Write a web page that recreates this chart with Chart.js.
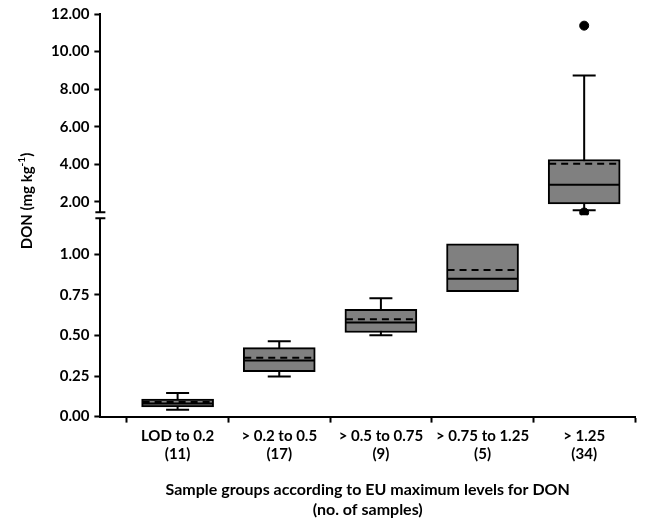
<!DOCTYPE html>
<html>
<head>
<meta charset="utf-8">
<script src="https://cdn.jsdelivr.net/npm/chart.js@4.4.1/dist/chart.umd.min.js"></script>
<style>
  html, body { margin: 0; padding: 0; background: #fff; }
  #wrap { width: 649px; height: 525px; }
</style>
</head>
<body>
<div id="wrap"><canvas id="chart"></canvas></div>
<script>
// Grupos de amostras (eixo x)
const groups = ['LOD to 0.2', '> 0.2 to 0.5', '> 0.5 to 0.75', '> 0.75 to 1.25', '> 1.25'];
const sampleCounts = ['(11)', '(17)', '(9)', '(5)', '(34)'];

// Estatisticas de cada caixa (mg/kg)
const q1 = [0.06, 0.276, 0.518, 0.77, 1.88];
const q3 = [0.108, 0.425, 0.661, 1.065, 4.25];
const medians = [0.08, 0.346, 0.58, 0.849, 2.91];
const means = [0.09, 0.362, 0.599, 0.903, 4.02];
const whiskerLow = [0.042, 0.247, 0.501, null, 1.55];
const whiskerHigh = [0.145, 0.464, 0.729, null, 8.73];
const outliers = [[], [], [], [], [11.38, 1.43]];

// Eixo y quebrado: parte de baixo e parte de cima
const lowTicks = [0, 0.25, 0.5, 0.75, 1.0];
const highTicks = [2, 4, 6, 8, 10, 12];
const lowMax = 1.24;
const highMin = 1.28;
const highMax = 12;

const font = { family: 'Lato', size: 15, weight: 'bold' };
const titleFont = { family: 'Lato', size: 16, weight: 'bold' };
const boxGray = '#808080';
const capWidth = 23;
const boxWidth = 72;

function axisFor(i) {
    return q1[i] < lowMax ? 'yLow' : 'yUp';
}

// Monta os dados das caixas (barras flutuantes)
const lowBoxes = [];
const highBoxes = [];
groups.forEach((g, i) => {
    const item = { x: i + 1, y: [q1[i], q3[i]] };
    if (axisFor(i) === 'yLow') lowBoxes.push(item); else highBoxes.push(item);
});
const outlierPoints = [];
outliers.forEach((list, i) => list.forEach(v => outlierPoints.push({ x: i + 1, y: v })));

// Bigodes, mediana e media desenhados com as escalas do grafico
const boxLines = {
    id: 'boxLines',
    beforeDatasetsDraw(chart) {
        const ctx = chart.ctx;
        const xs = chart.scales.x;
        ctx.save();
        ctx.strokeStyle = '#000';
        ctx.lineWidth = 2;
        groups.forEach((g, i) => {
            if (whiskerLow[i] == null) return;
            const ys = chart.scales[axisFor(i)];
            const cx = xs.getPixelForValue(i + 1);
            const yLo = ys.getPixelForValue(whiskerLow[i]);
            const yHi = ys.getPixelForValue(whiskerHigh[i]);
            ctx.beginPath();
            ctx.moveTo(cx, yLo); ctx.lineTo(cx, yHi);
            ctx.moveTo(cx - capWidth / 2, yLo); ctx.lineTo(cx + capWidth / 2, yLo);
            ctx.moveTo(cx - capWidth / 2, yHi); ctx.lineTo(cx + capWidth / 2, yHi);
            ctx.stroke();
        });
        ctx.restore();
    },
    afterDatasetsDraw(chart) {
        const ctx = chart.ctx;
        const xs = chart.scales.x;
        ctx.save();
        ctx.strokeStyle = '#000';
        ctx.lineWidth = 2;
        groups.forEach((g, i) => {
            const ys = chart.scales[axisFor(i)];
            const cx = xs.getPixelForValue(i + 1);
            const left = cx - boxWidth / 2 + 1;
            const right = cx + boxWidth / 2 - 1;
            // mediana
            ctx.setLineDash([]);
            ctx.beginPath();
            ctx.moveTo(left, ys.getPixelForValue(medians[i]));
            ctx.lineTo(right, ys.getPixelForValue(medians[i]));
            ctx.stroke();
            // media (tracejada)
            ctx.setLineDash([7, 5]);
            ctx.beginPath();
            ctx.moveTo(left, ys.getPixelForValue(means[i]));
            ctx.lineTo(right, ys.getPixelForValue(means[i]));
            ctx.stroke();
        });
        ctx.restore();
    },
    afterDraw(chart) {
        const ctx = chart.ctx;
        const up = chart.scales.yUp;
        const axisX = chart.chartArea.left;
        const yb = up.bottom;
        ctx.save();
        // quebra do eixo y
        ctx.fillStyle = '#fff';
        ctx.fillRect(axisX - 3, yb - 3, 6, 6);
        ctx.strokeStyle = '#000';
        ctx.lineWidth = 2;
        ctx.beginPath();
        ctx.moveTo(axisX - 5, yb - 3); ctx.lineTo(axisX + 5, yb - 3);
        ctx.moveTo(axisX - 5, yb + 3); ctx.lineTo(axisX + 5, yb + 3);
        ctx.stroke();

        // titulo do eixo y com expoente
        ctx.fillStyle = '#000';
        ctx.translate(27, 201);
        ctx.rotate(-Math.PI / 2);
        ctx.textBaseline = 'middle';
        ctx.textAlign = 'left';
        const main = 'bold 15px Lato';
        const sup = 'bold 10px Lato';
        ctx.font = main;
        const w1 = ctx.measureText('DON (mg kg').width;
        const w3 = ctx.measureText(')').width;
        ctx.font = sup;
        const w2 = ctx.measureText('-1').width;
        let x0 = -(w1 + w2 + w3) / 2;
        ctx.font = main;
        ctx.fillText('DON (mg kg', x0, 0);
        ctx.font = sup;
        ctx.fillText('-1', x0 + w1, -5);
        ctx.font = main;
        ctx.fillText(')', x0 + w1 + w2, 0);
        ctx.restore();
    }
};

const yCommon = {
    type: 'linear',
    position: 'left',
    stack: 'don',
    stackWeight: 1,
    ticks: { callback: v => Number(v).toFixed(2), font: font, color: '#000', padding: 5 },
    grid: { drawOnChartArea: false, drawTicks: true, tickLength: 6, tickWidth: 2, tickColor: '#000' },
    border: { color: '#000', width: 2 }
};

new Chart(document.getElementById('chart'), {
    type: 'bar',
    data: {
        datasets: [
            {
                label: 'low',
                data: lowBoxes,
                yAxisID: 'yLow',
                backgroundColor: boxGray,
                borderColor: '#000',
                borderWidth: 2,
                borderSkipped: false,
                barThickness: boxWidth,
                grouped: false
            },
            {
                label: 'high',
                data: highBoxes,
                yAxisID: 'yUp',
                backgroundColor: boxGray,
                borderColor: '#000',
                borderWidth: 2,
                borderSkipped: false,
                barThickness: boxWidth,
                grouped: false
            },
            {
                type: 'scatter',
                label: 'outliers',
                data: outlierPoints,
                yAxisID: 'yUp',
                backgroundColor: '#000',
                borderColor: '#000',
                pointRadius: 4.5
            }
        ]
    },
    options: {
        responsive: true,
        maintainAspectRatio: false,
        animation: false,
        devicePixelRatio: 1,
        layout: { padding: { left: 46, top: 7, right: 14, bottom: 6 } },
        plugins: { legend: { display: false }, tooltip: { enabled: false } },
        scales: {
            x: {
                type: 'linear',
                min: 0.24,
                max: 5.5,
                offset: false,
                afterBuildTicks: s => { s.ticks = groups.map((g, i) => ({ value: i + 1 })); },
                ticks: {
                    callback: v => [groups[v - 1], sampleCounts[v - 1]],
                    font: font, color: '#000', maxRotation: 0, autoSkip: false, padding: 5
                },
                grid: { drawOnChartArea: false, drawTicks: true, tickLength: 6, tickWidth: 2, tickColor: '#000' },
                border: { color: '#000', width: 2 },
                title: {
                    display: true,
                    text: ['Sample groups according to EU maximum levels for DON', '(no. of samples)'],
                    font: titleFont, color: '#000', padding: { top: 12, bottom: 0 }
                }
            },
            yLow: Object.assign({}, yCommon, {
                min: 0, max: lowMax,
                afterBuildTicks: s => { s.ticks = lowTicks.map(v => ({ value: v })); }
            }),
            yUp: Object.assign({}, yCommon, {
                min: highMin, max: highMax,
                afterBuildTicks: s => { s.ticks = highTicks.map(v => ({ value: v })); }
            })
        }
    },
    plugins: [boxLines]
});
</script>
</body>
</html>
